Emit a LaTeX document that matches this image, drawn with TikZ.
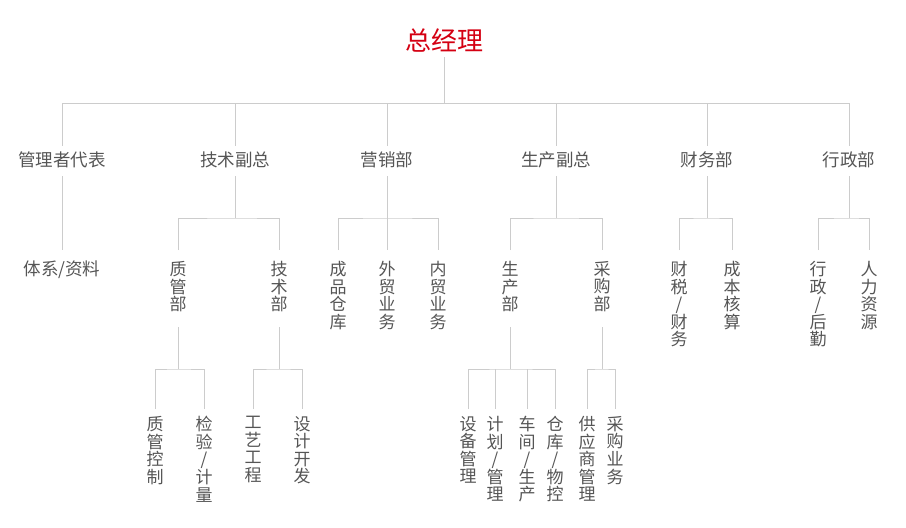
\documentclass[tikz,border=0pt]{standalone}
\usepackage{fontspec}
\setmainfont{Noto Sans CJK SC}
\definecolor{linec}{HTML}{CCCCCC}
\definecolor{txt}{HTML}{555555}
\definecolor{topred}{HTML}{D40012}
\begin{document}
\begin{tikzpicture}[x=1pt,y=-1pt,
  ln/.style={draw=linec, line width=1pt},
  t2/.style={inner sep=0pt, text=txt, font=\fontsize{17.5}{18}\selectfont},
  vt/.style={inner sep=0pt, text=txt, anchor=north, align=center, font=\fontsize{17}{17.6}\selectfont}]
\useasboundingbox (0,0) rectangle (906,528);
\node[inner sep=0pt, text=topred, font=\fontsize{26}{26}\selectfont] (gm) at (444,40) {总经理};
% level 2
\node[t2] (a) at (62,160) {管理者代表};
\node[t2] (b) at (235,160) {技术副总};
\node[t2] (c) at (387,160) {营销部};
\node[t2] (d) at (556,160) {生产副总};
\node[t2] (e) at (707,160) {财务部};
\node[t2] (f) at (849,160) {行政部};
\coordinate (bus1) at (0,103);
\draw[ln, shorten <=5pt] (gm.south) -- (gm.south |- bus1);
\draw[ln] (a |- bus1) -- (f |- bus1);
\foreach \n in {a,b,c,d,e,f}{\draw[ln, shorten >=6pt] (\n |- bus1) -- (\n.north);}
% level 3
\node[t2] (a1) at (62,270) {体系/资料};
\node[vt] (b1) at (178,261) {质\\管\\部};
\node[vt] (b2) at (279,261) {技\\术\\部};
\node[vt] (c1) at (338,261) {成\\品\\仓\\库};
\node[vt] (c2) at (387,261) {外\\贸\\业\\务};
\node[vt] (c3) at (438,261) {内\\贸\\业\\务};
\node[vt] (d1) at (510,261) {生\\产\\部};
\node[vt] (d2) at (602,261) {采\\购\\部};
\node[vt] (e1) at (679,261) {财\\税\\/\\财\\务};
\node[vt] (e2) at (732,261) {成\\本\\核\\算};
\node[vt] (f1) at (818,261) {行\\政\\/\\后\\勤};
\node[vt] (f2) at (869,261) {人\\力\\资\\源};
\coordinate (bus2) at (0,218);
\draw[ln, shorten <=8pt, shorten >=11pt] (a.south) -- (a1.north);
\foreach \p/\l/\r in {b/b1/b2, c/c1/c3, d/d1/d2, e/e1/e2, f/f1/f2}{
  \draw[ln, shorten <=8pt] (\p.south) -- (\p.south |- bus2);
  \draw[ln, shorten <=11pt, shorten >=11pt] (\l.north) |- (bus2 -| \p) -| (\r.north);
}
\draw[ln, shorten >=11pt] (c2 |- bus2) -- (c2.north);
% level 4
\node[vt] (b11) at (155,416) {质\\管\\控\\制};
\node[vt] (b12) at (204,416) {检\\验\\/\\计\\量};
\node[vt] (b21) at (253,416) {工\\艺\\工\\程};
\node[vt] (b22) at (302,416) {设\\计\\开\\发};
\node[vt] (d11) at (468,416) {设\\备\\管\\理};
\node[vt] (d12) at (495,416) {计\\划\\/\\管\\理};
\node[vt] (d13) at (527,416) {车\\间\\/\\生\\产};
\node[vt] (d14) at (555,416) {仓\\库\\/\\物\\控};
\node[vt] (d21) at (587,416) {供\\应\\商\\管\\理};
\node[vt] (d22) at (615,416) {采\\购\\业\\务};
\coordinate (bus3) at (0,369);
\foreach \p/\l/\r in {b1/b11/b12, b2/b21/b22, d1/d11/d14, d2/d21/d22}{
  \draw[ln, shorten <=15pt] (\p.south) -- (\p.south |- bus3);
  \draw[ln, shorten <=7pt, shorten >=7pt] (\l.north) |- (bus3 -| \p) -| (\r.north);
}
\foreach \n in {d12,d13}{\draw[ln, shorten >=7pt] (\n |- bus3) -- (\n.north);}
\end{tikzpicture}
\end{document}
